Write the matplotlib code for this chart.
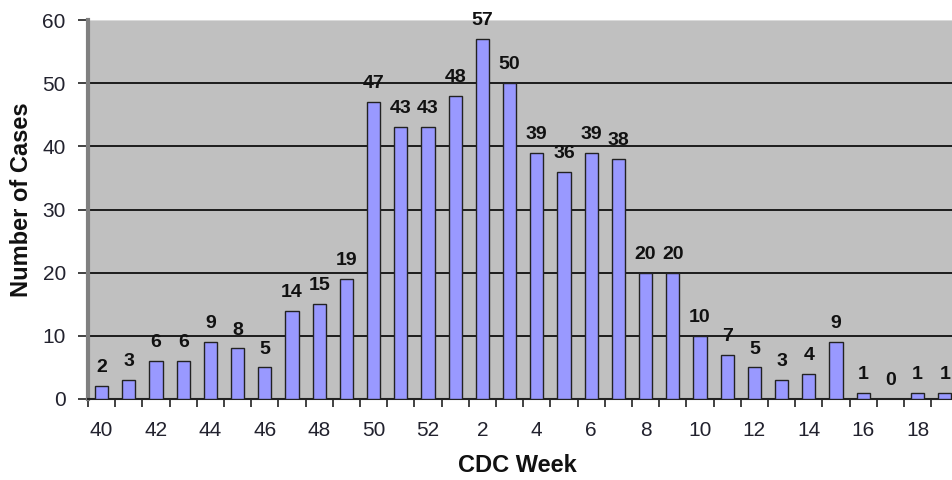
import numpy as np
import matplotlib
matplotlib.use("Agg")
import matplotlib.pyplot as plt

# CDC weeks 40..52 then 1..19
weeks = [40, 41, 42, 43, 44, 45, 46, 47, 48, 49, 50, 51, 52,
         1, 2, 3, 4, 5, 6, 7, 8, 9, 10, 11, 12, 13, 14, 15, 16, 17, 18, 19]
cases = [2, 3, 6, 6, 9, 8, 5, 14, 15, 19, 47, 43, 43,
         48, 57, 50, 39, 36, 39, 38, 20, 20, 10, 7, 5, 3, 4, 9, 1, 0, 1, 1]
y_ticks = [0, 10, 20, 30, 40, 50, 60]

plt.rcParams["font.family"] = ["Liberation Sans", "DejaVu Sans"]
text_col = "#22222e"

fig = plt.figure(figsize=(9.52, 4.8), dpi=100)
ax = fig.add_axes([88 / 952, 81 / 480, 870.4 / 952, 379 / 480])
ax.set_facecolor("#c0c0c0")

x = np.arange(len(weeks))
ax.bar(x, cases, width=0.48, color="#9999ff", edgecolor="#222222",
       linewidth=1.0, zorder=3)

for xi, v in zip(x, cases):
    ax.annotate(str(v), (xi, v), xytext=(0, 10), textcoords="offset points",
                ha="center", va="baseline", fontsize=14, fontweight="bold",
                color="#111111", zorder=4)

ax.set_xlim(-0.5, len(weeks) - 0.5)
ax.set_ylim(0, 60)
ax.set_yticks(y_ticks)
ax.set_yticklabels([str(t) for t in y_ticks], fontsize=15, color=text_col)
for t in y_ticks[1:-1]:
    ax.axhline(t, color="black", linewidth=1.2, zorder=2)

# labels on every other week, tick marks at category boundaries
ax.set_xticks(x[::2])
ax.set_xticklabels([str(w) for w in weeks[::2]], fontsize=15, color=text_col)
ax.tick_params(axis="x", length=0, pad=16)
ax.set_xticks(np.arange(len(weeks)) - 0.5, minor=True)
ax.tick_params(axis="x", which="minor", length=6, width=1.2, color="#222222")
ax.tick_params(axis="y", length=7, width=1.2, color="#222222", pad=9)

for side in ["top", "right"]:
    ax.spines[side].set_visible(False)
ax.spines["left"].set_color("#808080")
ax.spines["left"].set_linewidth(3)
ax.spines["bottom"].set_color("#222222")
ax.spines["bottom"].set_linewidth(1.5)
ax.axhline(60, color="#e0e0e0", linewidth=1.2, zorder=2)

fig.text(517 / 952, 1 - 465 / 480, "CDC Week", fontsize=17,
         fontweight="bold", color="#111111", ha="center", va="center")
fig.text(22 / 952, 1 - 200 / 480, "Number of Cases", fontsize=17,
         fontweight="bold", color="#111111", ha="center", va="center",
         rotation=90)

fig.savefig("out.png", dpi=100)
